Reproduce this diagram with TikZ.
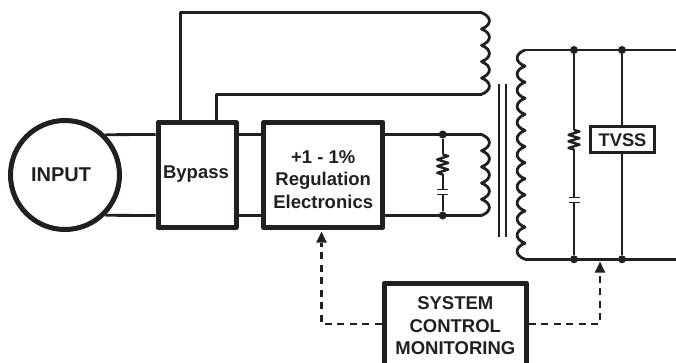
\documentclass[tikz,border=0pt]{standalone}
\usepackage{fontspec}
\setmainfont{Liberation Sans}
\usetikzlibrary{calc, arrows.meta, positioning}
\definecolor{ink}{HTML}{231F20}

% one run of windings, bulging to the side given by #1
\newcommand{\windings}[4]{
	\draw[wire] (#2) \foreach \i in {1,...,#3} { .. controls +(#1,4) and +(#1,-4) .. ++(0,#4) };
}
% zigzag between two named points
\newcommand{\zigzag}[2]{
	\draw[thinwire] (#1) -- ($(#1)!0.08!(#2)+(5.5,0)$) -- ($(#1)!0.25!(#2)+(-5.5,0)$) -- ($(#1)!0.42!(#2)+(5.5,0)$) -- ($(#1)!0.58!(#2)+(-5.5,0)$) -- ($(#1)!0.75!(#2)+(5.5,0)$) -- ($(#1)!0.92!(#2)+(-5.5,0)$) -- (#2);
}

\begin{document}
\begin{tikzpicture}[x=1pt, y=-1pt, >=Latex, every node/.style={text=ink}]
	\tikzset{
		wire/.style = {draw=ink, line width=2.8pt, line join=round},
		thinwire/.style = {draw=ink, line width=2.4pt, line join=round},
		heavy/.style = {draw=ink, line width=5pt, line join=round, fill=white, inner sep=0pt, align=center, font=\fontsize{18.5}{22.5}\selectfont\bfseries},
		boxtext/.style = {inner sep=0pt, align=center, font=\fontsize{18.5}{22.5}\selectfont\bfseries},
		dot/.style = {circle, fill=ink, inner sep=0pt, minimum size=8pt},
		plate/.style = {draw=ink, line width=1.8pt},
		signal/.style = {draw=ink, line width=2.4pt, dash pattern=on 7pt off 5.5pt}
	}
	\useasboundingbox (0,0) rectangle (676,363);

	\node[heavy, circle, minimum size=109pt, font=\fontsize{20}{24}\selectfont\bfseries] at (65, 175) (input) {\kern-8pt INPUT};
	\node[heavy, minimum width=78pt, minimum height=105.5pt] at (197, 175) (bypass) {\raisebox{5pt}{\kern-2pt Bypass}};
	\node[heavy, minimum width=119.5pt, minimum height=105.5pt] at (323.2, 175) (reg) {};
	\node[boxtext] at (323.2, 179.5) (regtext) {+1 - 1\%\\Regulation\\Electronics};
	\node[heavy, minimum width=142pt, minimum height=90pt] at (455.3, 328) (monitor) {};
	\node[boxtext] at (455.3, 326) (montext) {SYSTEM\\CONTROL\\MONITORING};

	\coordinate (hi) at (0, 134.5);
	\coordinate (lo) at (0, 215.5);
	\coordinate (topa) at (481.5, 12.7);
	\coordinate (topb) at (481.5, 94.3);
	\coordinate (pria) at (481.5, 134.5);
	\coordinate (prib) at (481.5, 215.5);
	\coordinate (seca) at (525, 50);
	\coordinate (secb) at (525, 259.3);
	\coordinate (outa) at (676, 50);
	\coordinate (outb) at (676, 259.3);

	% input side
	\draw[wire] (input.45) -- (hi -| bypass.west);
	\draw[wire] (input.-45) -- (lo -| bypass.west);
	\draw[wire] (hi -| bypass.east) -- (hi -| reg.west);
	\draw[wire] (lo -| bypass.east) -- (lo -| reg.west);
	\draw[wire] (hi -| reg.east) -- (pria);
	\draw[wire] (lo -| reg.east) -- (prib);
	\draw[wire] (180.7, 120) |- (topa);
	\draw[wire] (216.7, 120) |- (topb);

	\windings{10.5}{topa}{5}{16.32}
	\windings{10.5}{pria}{5}{16.2}

	% core
	\coordinate (corea) at (499, 84);
	\coordinate (coreb) at (499, 236.7);
	\coordinate (corec) at (506, 84);
	\coordinate (cored) at (506, 236.7);
	\draw[thinwire] (corea) -- (coreb);
	\draw[thinwire] (corec) -- (cored);

	% secondary
	\draw[wire] (seca) -- (outa);
	\draw[wire] (secb) -- (outb);
	\windings{-10.5}{seca}{13}{16.1}

	% primary damper
	\node[dot] at (442.7, 134.5) (d1) {};
	\node[dot] at (442.7, 215.5) (d2) {};
	\coordinate (r1a) at (442.7, 154.5);
	\coordinate (r1b) at (442.7, 174.5);
	\coordinate (c1a) at (442.7, 189.6);
	\coordinate (c1b) at (442.7, 194.6);
	\draw[thinwire] (d1) -- (r1a);
	\zigzag{r1a}{r1b}
	\draw[thinwire] (r1b) -- (c1a);
	\draw[thinwire] (c1b) -- (d2);
	\draw[plate] ($(c1a)+(-5.5,0)$) -- ($(c1a)+(5.5,0)$);
	\draw[plate] ($(c1b)+(-5.5,0)$) -- ($(c1b)+(5.5,0)$);

	% secondary damper
	\node[dot] at (574, 50) (d3) {};
	\node[dot] at (574, 259.3) (d4) {};
	\coordinate (r2a) at (574, 130);
	\coordinate (r2b) at (574, 149.5);
	\coordinate (c2a) at (574, 197.6);
	\coordinate (c2b) at (574, 202.6);
	\draw[thinwire] (d3) -- (r2a);
	\zigzag{r2a}{r2b}
	\draw[thinwire] (r2b) -- (c2a);
	\draw[thinwire] (c2b) -- (d4);
	\draw[plate] ($(c2a)+(-5.5,0)$) -- ($(c2a)+(5.5,0)$);
	\draw[plate] ($(c2b)+(-5.5,0)$) -- ($(c2b)+(5.5,0)$);

	% suppressor
	\node[dot] at (622, 50) (d5) {};
	\node[dot] at (622, 259.3) (d6) {};
	\node[draw=ink, line width=2.8pt, fill=white, inner sep=0pt, minimum width=63.5pt, minimum height=25.8pt, font=\fontsize{18.3}{22}\selectfont\bfseries] at (622.5, 139.8) (tvss) {TVSS};
	\draw[wire] (d5) -- (d5 |- tvss.north);
	\draw[wire] (d6 |- tvss.south) -- (d6);

	% control lines
	\coordinate (arra) at (321.5, 231.7);
	\coordinate (arrb) at (600, 261.7);
	\coordinate (turna) at (321.5, 324);
	\coordinate (turnb) at (600, 324);
	\draw[signal] (turna -| monitor.west) -- (turna) -- ($(arra)+(0,11)$);
	\draw[signal] (turnb -| monitor.east) -- (turnb) -- ($(arrb)+(0,11)$);
	\fill[ink] (arra) -- ++(5.4,11) -- ++(-10.8,0) -- cycle;
	\fill[ink] (arrb) -- ++(5.4,11) -- ++(-10.8,0) -- cycle;
\end{tikzpicture}
\end{document}
